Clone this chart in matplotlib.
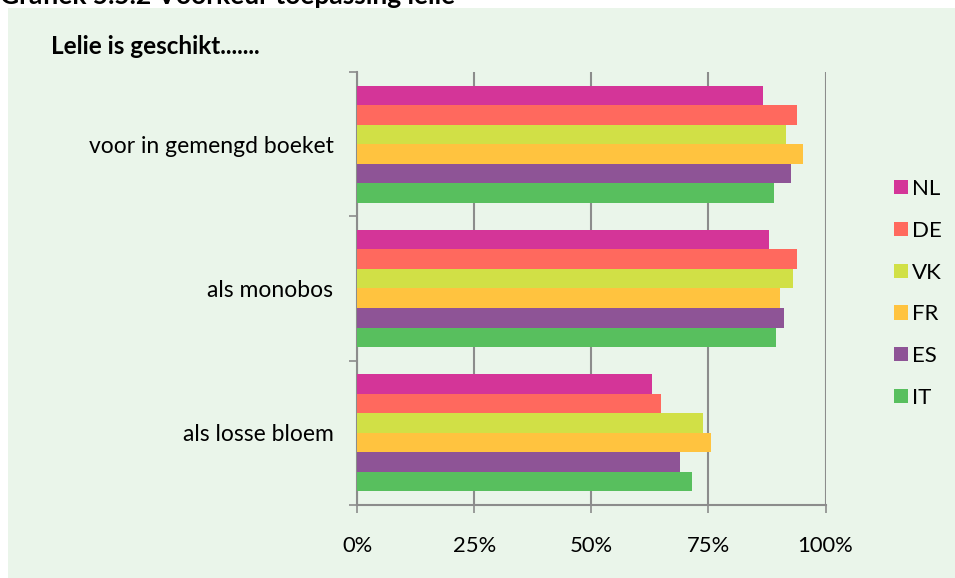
import numpy as np
import matplotlib
matplotlib.use("Agg")
from matplotlib import pyplot as plt
from matplotlib.patches import Rectangle

plt.rcParams['font.family'] = ['Lato', 'DejaVu Sans']

# ------------------------------
# Data
# ------------------------------
categories = ['voor in gemengd boeket', 'als monobos', 'als losse bloem']
countries = ['NL', 'DE', 'VK', 'FR', 'ES', 'IT']
nl = [0.867, 0.880, 0.629]
de = [0.940, 0.940, 0.648]
vk = [0.915, 0.930, 0.739]
fr = [0.952, 0.902, 0.756]
es = [0.927, 0.912, 0.690]
it = [0.890, 0.895, 0.714]
series = [nl, de, vk, fr, es, it]
colors = ['#D43598', '#FF695E', '#D1E046', '#FFC33F', '#8E5496', '#58BF5E']
xticks = [0, 0.25, 0.5, 0.75, 1.0]
xtick_labels = ['0%', '25%', '50%', '75%', '100%']

bg = '#EAF5EA'
grid_col = '#8C8C8C'

# ------------------------------
# Figure
# ------------------------------
fig = plt.figure(figsize=(9.55, 5.78), dpi=100)
fig.patch.set_facecolor('white')
fig.patches.append(Rectangle((8 / 955, 0), 1, 1 - 8 / 578, transform=fig.transFigure,
                             facecolor=bg, edgecolor='none', zorder=-10))

# chart title sits partly above the crop, as in the source page
fig.text(0.0, 1 - 4 / 578, 'Grafiek 5.5.2 Voorkeur toepassing lelie', fontsize=19,
         fontweight='bold', va='baseline', ha='left')
fig.text(51 / 955, 1 - 46 / 578, 'Lelie is geschikt.......', fontsize=17.5,
         fontweight='bold', va='center', ha='left')

ax = fig.add_axes([357 / 955, 1 - 505 / 578, 468.5 / 955, 433 / 578])
ax.set_facecolor('none')

n = len(series)
h = 0.8125 / n
y = np.arange(len(categories))
for i, (vals, c, lab) in enumerate(zip(series, colors, countries)):
    offs = -0.8125 / 2 + h * (i + 0.5)
    ax.barh(y + offs, vals, height=h, color=c, label=lab, edgecolor='none', zorder=3)

ax.set_xlim(0, 1)
ax.set_ylim(2.5, -0.5)
ax.set_xticks(xticks)
ax.set_xticklabels(xtick_labels, fontsize=15.8)
ax.xaxis.grid(True, color=grid_col, linewidth=1.5, zorder=0)
ax.set_yticks([-0.5, 0.5, 1.5, 2.5])
ax.set_yticklabels([])
ax.set_yticks(y, minor=True)
ax.set_yticklabels(categories, minor=True, fontsize=16.5)
ax.tick_params(axis='y', which='minor', length=0, pad=17)
ax.tick_params(axis='y', which='major', length=6, width=1.2, color=grid_col)
ax.tick_params(axis='x', length=6, width=1.2, color=grid_col, pad=16)

for s in ['top', 'right']:
    ax.spines[s].set_visible(False)
for s in ['left', 'bottom']:
    ax.spines[s].set_color(grid_col)
    ax.spines[s].set_linewidth(1.5)

leg = fig.legend(loc='upper left', bbox_to_anchor=(894 / 955, 1 - 179 / 578),
                 frameon=False, fontsize=16, handlelength=0.62, handleheight=0.62,
                 handletextpad=0.2, labelspacing=0.98, borderpad=0, borderaxespad=0)

fig.savefig('out.png', dpi=100, facecolor=fig.get_facecolor())
